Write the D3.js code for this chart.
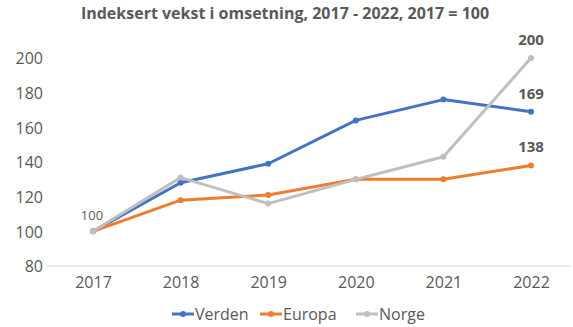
<!DOCTYPE html>
<html>
<head>
<meta charset="utf-8">
<script src="https://cdn.jsdelivr.net/npm/d3@7"></script>
<style>
  html, body { margin: 0; padding: 0; background: #ffffff; }
  svg { display: block; font-family: "Open Sans", "Noto Sans", sans-serif; }
</style>
</head>
<body>
<svg id="chart" width="573" height="327"></svg>
<script>
// Indexed revenue growth, 2017 = 100
const years = ["2017", "2018", "2019", "2020", "2021", "2022"];
const verden = [100, 128, 139, 164, 176, 169];
const europa = [100, 118, 121, 130, 130, 138];
const norge  = [100, 131, 116, 130, 143, 200];
const yTicks = [80, 100, 120, 140, 160, 180, 200];
const seriesNames = ["Verden", "Europa", "Norge"];
const seriesColors = ["#4472C4", "#ED7D31", "#BFBFBF"];

const series = [
  { name: seriesNames[0], values: verden, color: seriesColors[0] },
  { name: seriesNames[1], values: europa, color: seriesColors[1] },
  { name: seriesNames[2], values: norge,  color: seriesColors[2] }
];

const svg = d3.select("#chart");

const x = d3.scalePoint().domain(years).range([93, 531]);
const y = d3.scaleLinear().domain([80, 200]).range([266, 58]);

// Title
svg.append("text")
  .attr("x", 285).attr("y", 19)
  .attr("text-anchor", "middle")
  .attr("font-size", 16).attr("font-weight", "bold")
  .attr("fill", "#595959")
  .text("Indeksert vekst i omsetning, 2017 - 2022, 2017 = 100");

// Y axis labels (no axis line)
const yAxis = d3.axisLeft(y).tickValues(yTicks).tickSize(0).tickPadding(0);
const gy = svg.append("g").attr("transform", "translate(43,0)").call(yAxis);
gy.select(".domain").remove();
gy.selectAll("text").attr("font-size", 16).attr("fill", "#595959")
  .attr("font-family", "'Open Sans', sans-serif").attr("dy", "0.36em");

// X axis baseline and labels
const xAxis = d3.axisBottom(x).tickSize(0).tickPadding(11);
const gx = svg.append("g").attr("transform", "translate(0,266)").call(xAxis);
gx.select(".domain").remove();
gx.append("line").attr("x1", 47).attr("x2", 571).attr("y1", 0).attr("y2", 0)
  .attr("stroke", "#D9D9D9").attr("stroke-width", 1);
gx.selectAll("text").attr("font-size", 16).attr("fill", "#595959")
  .attr("font-family", "'Open Sans', sans-serif");

// Lines and markers
const line = d3.line().x((d, i) => x(years[i])).y(d => y(d));
series.forEach(s => {
  svg.append("path").datum(s.values)
    .attr("d", line)
    .attr("fill", "none")
    .attr("stroke", s.color)
    .attr("stroke-width", 3)
    .attr("stroke-linejoin", "round")
    .attr("stroke-linecap", "round");
  svg.append("g").selectAll("circle").data(s.values).join("circle")
    .attr("cx", (d, i) => x(years[i]))
    .attr("cy", d => y(d))
    .attr("r", 3)
    .attr("fill", s.color);
});

// Value labels
svg.append("text")
  .attr("x", x(years[0]) - 1).attr("y", y(norge[0]) - 11)
  .attr("text-anchor", "middle")
  .attr("font-size", 13).attr("fill", "#595959")
  .text(norge[0]);

const last = years.length - 1;
[norge, verden, europa].forEach(vals => {
  svg.append("text")
    .attr("x", x(years[last])).attr("y", y(vals[last]) - 13)
    .attr("text-anchor", "middle")
    .attr("font-size", 15).attr("font-weight", "bold")
    .attr("fill", "#595959")
    .text(vals[last]);
});

// Legend
const legendX = [170, 258, 354];
const legend = svg.append("g").attr("transform", "translate(0,314)");
series.forEach((s, i) => {
  const g = legend.append("g").attr("transform", `translate(${legendX[i]},0)`);
  g.append("line").attr("x1", 2).attr("x2", 24).attr("y1", 0).attr("y2", 0)
    .attr("stroke", s.color).attr("stroke-width", 3);
  g.append("circle").attr("cx", 13).attr("cy", 0).attr("r", 3).attr("fill", s.color);
  g.append("text").attr("x", 25).attr("y", 0).attr("dy", "0.36em")
    .attr("font-size", 16).attr("fill", "#595959")
    .text(s.name);
});
</script>
</body>
</html>
